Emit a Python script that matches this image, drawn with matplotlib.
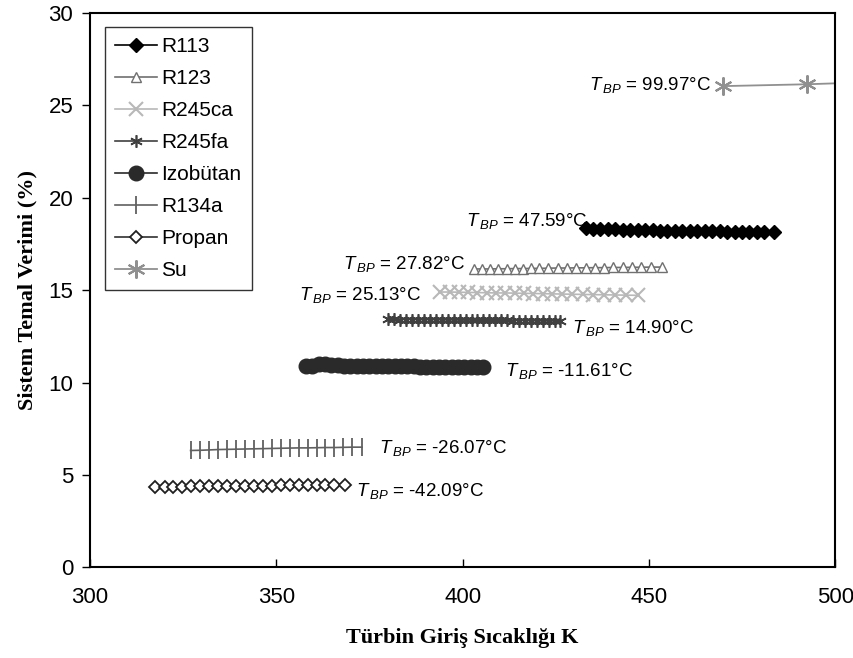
import numpy as np
import matplotlib as mpl
mpl.use('agg')
import matplotlib.pyplot as plt

plt.rcParams['font.family'] = ['Liberation Sans', 'DejaVu Sans']
plt.rcParams['mathtext.fontset'] = 'custom'
plt.rcParams['mathtext.it'] = 'Liberation Sans:italic'
plt.rcParams['mathtext.rm'] = 'Liberation Sans'

# turbine inlet temperature (K) and system thermal efficiency (%)
r113_x = [433, 435, 437, 439, 441, 443, 445, 447, 449, 451, 453, 455, 457,
          459, 461, 463, 465, 467, 469, 471, 473, 475, 477, 479, 481, 483.5]
r113_y = [18.35, 18.3, 18.3, 18.3, 18.3, 18.28, 18.27, 18.26, 18.25, 18.24, 18.23, 18.22, 18.22,
          18.21, 18.2, 18.2, 18.19, 18.18, 18.18, 18.17, 18.17, 18.16, 18.15, 18.15, 18.14, 18.13]

r123_x = [403, 405.2, 407.4, 409.6, 411.8, 414, 416.2, 418.4, 420.6, 422.8, 425.5,
          428, 430.5, 433, 435.5, 438, 440.5, 443, 445.5, 448, 450.5, 453.5]
r123_y = [16.15, 16.15, 16.15, 16.16, 16.16, 16.17, 16.17, 16.18, 16.18, 16.19, 16.2,
          16.2, 16.21, 16.21, 16.22, 16.22, 16.23, 16.23, 16.24, 16.24, 16.25, 16.25]

r245ca_x = [394, 396.5, 399, 401.5, 404, 406.5, 409, 411.5, 414, 416.5, 419,
            421.5, 424, 426.8, 429.5, 432.2, 435, 438, 441, 444, 447]
r245ca_y = [14.9, 14.9, 14.89, 14.88, 14.87, 14.86, 14.85, 14.85, 14.84, 14.83, 14.82,
            14.81, 14.8, 14.79, 14.78, 14.77, 14.76, 14.75, 14.74, 14.73, 14.72]

r245fa_x = [380, 381.6, 383.2, 384.8, 386.4, 388, 389.6, 391.2, 392.8, 394.4, 396,
            397.6, 399.2, 400.8, 402.4, 404, 405.6, 407.2, 408.8, 410.4, 412,
            413.6, 415.2, 416.8, 418.4, 420, 421.6, 423.2, 424.8, 426.2]
r245fa_y = [13.42, 13.42, 13.41, 13.41, 13.41, 13.4, 13.4, 13.4, 13.4, 13.39, 13.39,
            13.39, 13.38, 13.38, 13.38, 13.37, 13.37, 13.37, 13.36, 13.36, 13.36,
            13.35, 13.35, 13.35, 13.34, 13.34, 13.33, 13.33, 13.33, 13.32]

izobutan_x = [358, 359.7, 361.4, 363.1, 364.8, 366.5, 368.2, 369.9, 371.6, 373.3,
              375, 376.7, 378.4, 380.1, 381.8, 383.5, 385.2, 386.9, 388.6, 390.3,
              392, 393.7, 395.4, 397.1, 398.8, 400.5, 402.2, 403.9, 405.5]
izobutan_y = [10.88, 10.92, 10.98, 11.0, 10.97, 10.93, 10.9, 10.9, 10.9, 10.89,
              10.89, 10.89, 10.88, 10.88, 10.88, 10.87, 10.87, 10.87, 10.86, 10.86,
              10.86, 10.85, 10.85, 10.85, 10.84, 10.84, 10.84, 10.83, 10.83]

r134a_x = [327, 329.5, 332, 334.4, 336.8, 339.2, 341.6, 344, 346.4, 348.8, 351.2,
           353.6, 356, 358.4, 360.8, 363.2, 365.6, 368, 370.4, 373]
r134a_y = [6.32, 6.33, 6.35, 6.37, 6.38, 6.39, 6.4, 6.41, 6.42, 6.43, 6.44,
           6.45, 6.46, 6.46, 6.47, 6.48, 6.48, 6.49, 6.5, 6.5]

propan_x = [317.5, 320, 322.4, 324.8, 327.2, 329.6, 332, 334.4, 336.8, 339.2, 341.6,
            344, 346.4, 348.8, 351.2, 353.6, 356, 358.4, 360.8, 363.2, 365.6, 368.5]
propan_y = [4.33, 4.34, 4.35, 4.36, 4.37, 4.38, 4.38, 4.39, 4.4, 4.4, 4.41,
            4.41, 4.42, 4.42, 4.43, 4.43, 4.44, 4.44, 4.45, 4.45, 4.46, 4.46]

su_x = [470, 492.5, 515]
su_y = [26.05, 26.15, 26.3]

labels = ['R113', 'R123', 'R245ca', 'R245fa', 'Izobütan', 'R134a', 'Propan', 'Su']
tbp_texts = ['47.59', '27.82', '25.13', '14.90', '-11.61', '-26.07', '-42.09', '99.97']
tbp_pos = [(401.0, 18.75), (368.0, 16.4), (356.0, 14.75), (429.5, 12.95),
           (411.5, 10.6), (377.5, 6.45), (371.5, 4.15), (434.0, 26.1)]

fig = plt.figure(figsize=(8.54, 6.58), dpi=100)
ax = fig.add_axes([0.1054, 0.138, 0.8725, 0.842])

ax.plot(r113_x, r113_y, color='black', lw=1.2, marker='D', ms=7.5, mfc='black', mec='black', label=labels[0])
ax.plot(r123_x, r123_y, color='#707070', lw=1.2, marker='^', ms=7, mfc='white', mec='#707070', label=labels[1])
ax.plot(r245ca_x, r245ca_y, color='#b8b8b8', lw=1.2, marker='x', ms=10, mew=1.5, mec='#b8b8b8', label=labels[2])
ax.plot(r245fa_x, r245fa_y, color='#404040', lw=1.2, marker=(6, 2, 0), ms=9, mew=1.2, mec='#404040', label=labels[3])
ax.plot(izobutan_x, izobutan_y, color='#2a2a2a', lw=1.2, marker='o', ms=10.5, mfc='#2a2a2a', mec='#2a2a2a', label=labels[4])
ax.plot(r134a_x, r134a_y, color='#606060', lw=1.2, marker='|', ms=13, mew=1.3, mec='#606060', label=labels[5])
ax.plot(propan_x, propan_y, color='#303030', lw=1.2, marker='D', ms=6.5, mfc='white', mec='#202020', mew=1.3, label=labels[6])
ax.plot(su_x, su_y, color='#909090', lw=1.3, marker=(6, 2, 0), ms=13, mew=1.5, mec='#909090',
        markevery=[0, 1], label=labels[7])

for t, (tx, ty) in zip(tbp_texts, tbp_pos):
    ax.text(tx, ty, r'$T_{\,BP}$ = ' + t + '°C', fontsize=13.5, ha='left', va='center')

ax.set_xlim(300, 500)
ax.set_ylim(0, 30)
ax.set_xticks([300, 350, 400, 450, 500])
ax.set_yticks([0, 5, 10, 15, 20, 25, 30])
ax.tick_params(axis='x', direction='in', length=6, width=1, labelsize=16, pad=14)
ax.tick_params(axis='y', direction='out', length=6, width=1, labelsize=16, pad=6)
for s in ax.spines.values():
    s.set_linewidth(1.5)

ax.set_xlabel('Türbin Giriş Sıcaklığı K', fontsize=16, fontweight='bold',
              family='Liberation Serif', labelpad=15)
ax.set_ylabel('Sistem Temal Verimi (%)', fontsize=16, fontweight='bold',
              family='Liberation Serif', labelpad=8)

leg = ax.legend(loc='upper left', bbox_to_anchor=(0.02, 0.975), borderaxespad=0,
                fontsize=15, frameon=True, fancybox=False, edgecolor='black',
                handlelength=2.0, handletextpad=0.2, labelspacing=0.62, borderpad=0.5)
leg.get_frame().set_linewidth(1.0)

fig.savefig('out.png', dpi=100)
